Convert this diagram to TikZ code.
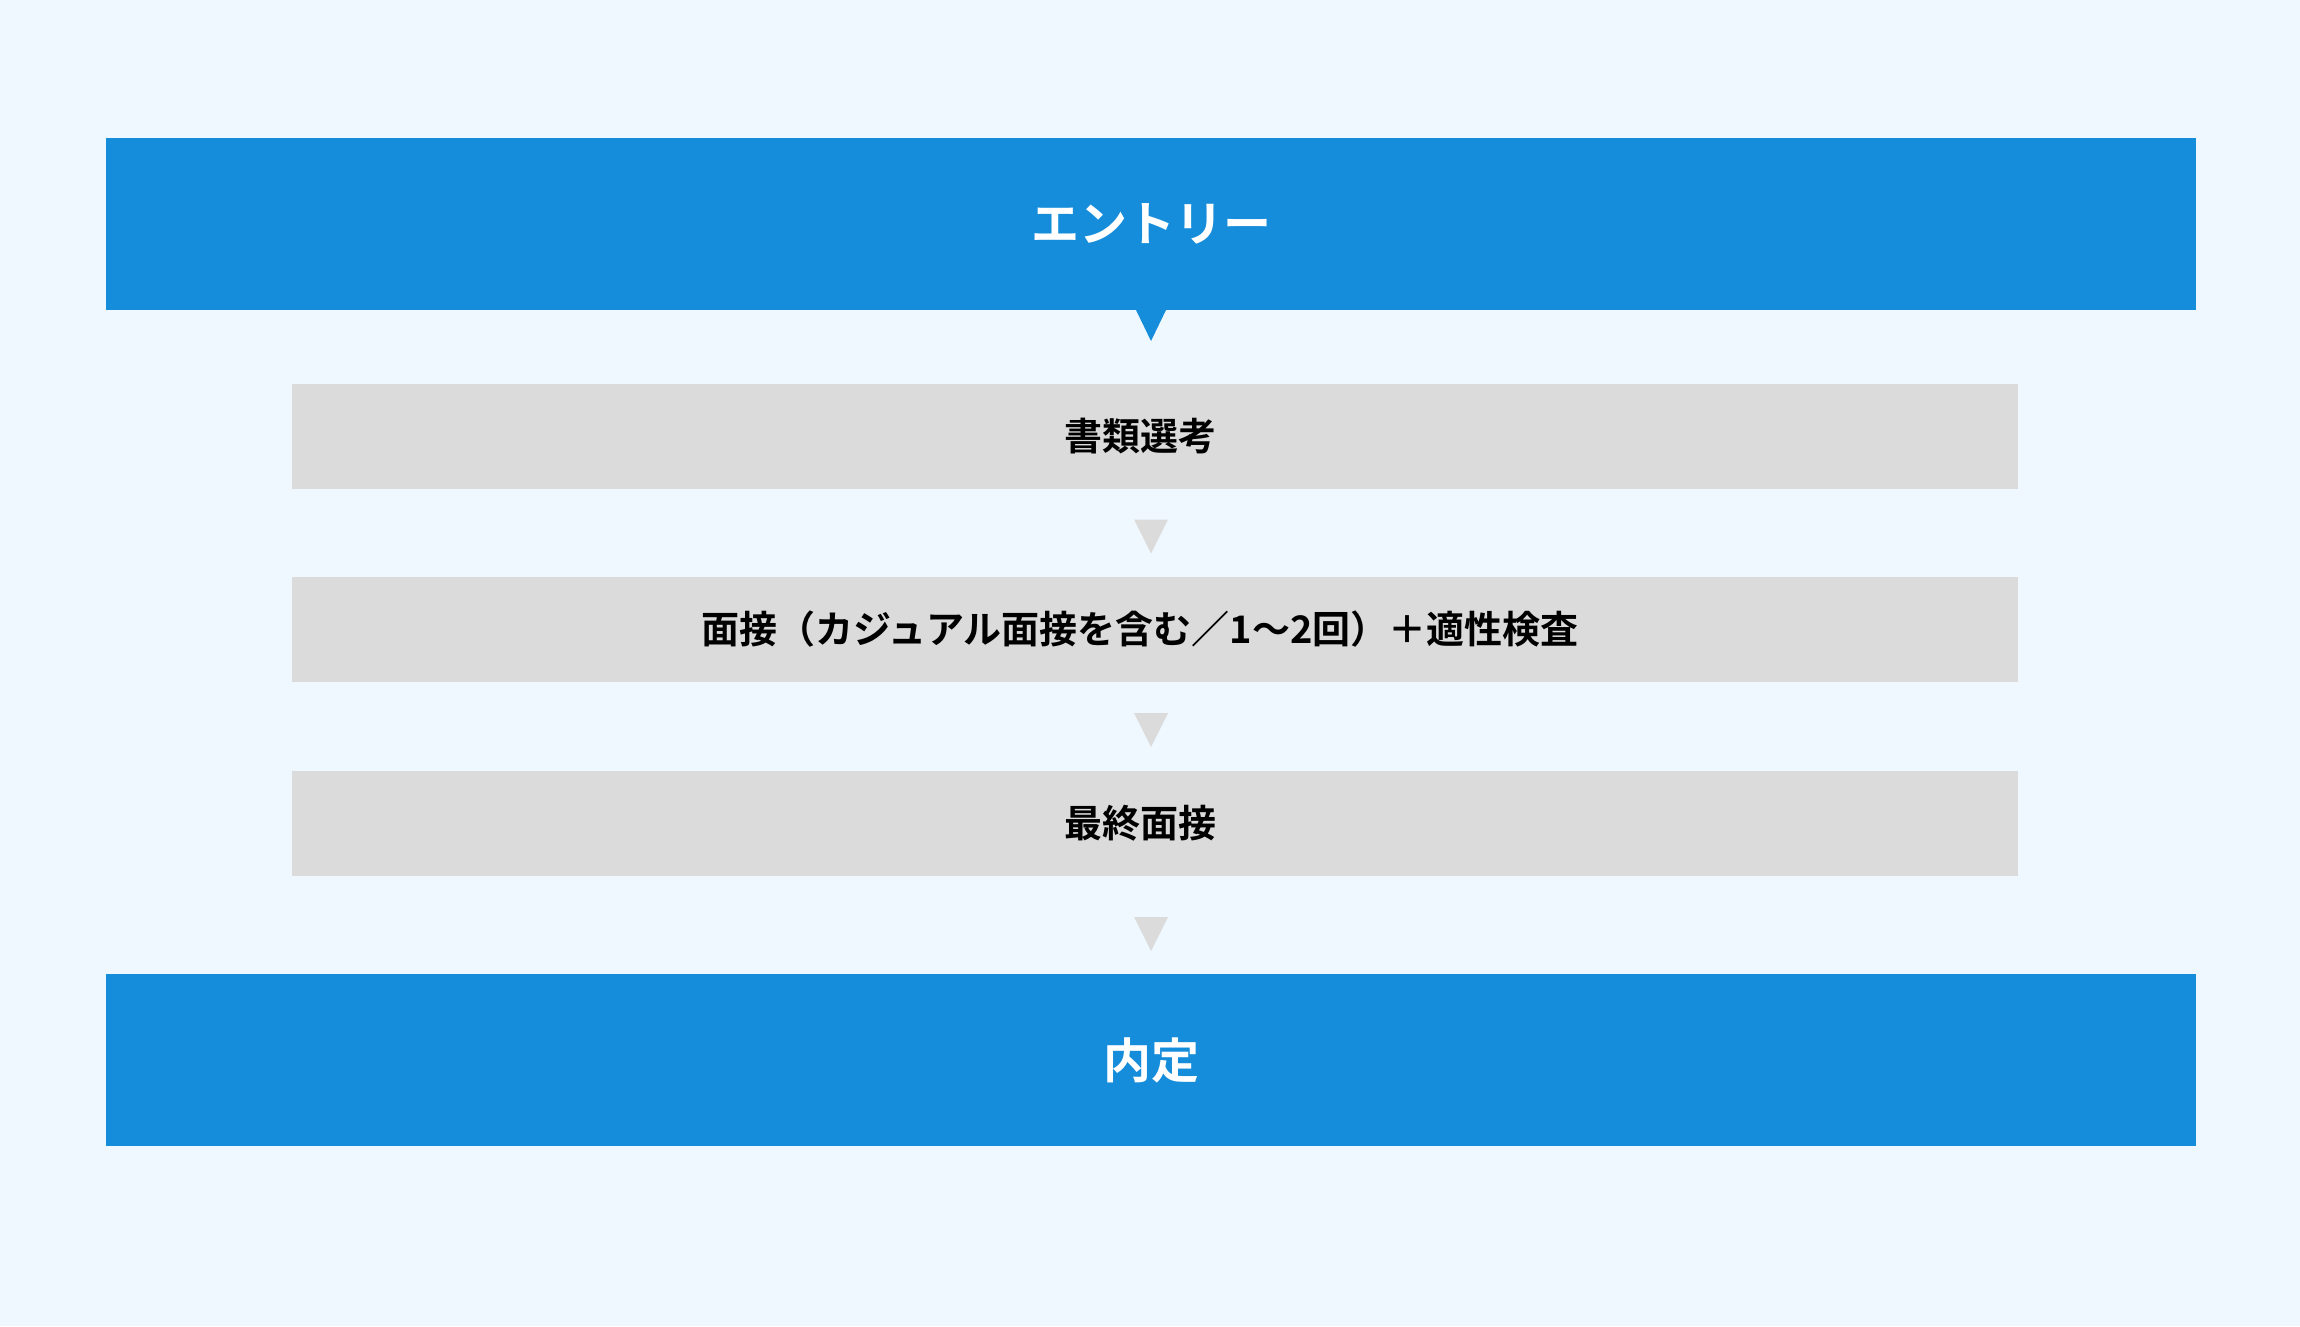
\documentclass[tikz,border=0pt]{standalone}
\usepackage{fontspec}
\newfontfamily\jpfont{Noto Sans CJK JP Bold}
\usepackage{tikz}
\usetikzlibrary{calc,positioning}
\definecolor{bgblue}{HTML}{EFF8FE}
\definecolor{stepblue}{HTML}{158DDB}
\definecolor{stepgray}{HTML}{DBDBDB}
\begin{document}
\begin{tikzpicture}[x=1pt,y=-1pt]
\tikzstyle{every node} = [inner sep = 0pt, outer sep = 0pt];
\tikzstyle{bluebox} = [fill = stepblue, text = white, minimum width = 2090pt, minimum height = 172pt, font = \jpfont\fontsize{48}{56}\selectfont];
\tikzstyle{graybox} = [fill = stepgray, text = black, minimum width = 1726pt, minimum height = 105pt, font = \jpfont\fontsize{38}{44}\selectfont];
\fill[bgblue] (0,0) rectangle (2300,1326);
\useasboundingbox (0,0) rectangle (2300,1326);
\node[bluebox] (entry) at (1151,224) {エントリー};
\node[graybox] (doc) at (1155,436) {\hspace*{-30pt}書類選考};
\node[graybox] (intv) at (1155,629.5) {\hspace*{-30pt}面接（カジュアル面接を含む／1〜2回）＋適性検査};
\node[graybox] (final) at (1155,823.5) {\hspace*{-30pt}最終面接};
\node[bluebox] (offer) at (1151,1060) {内定};
\fill[stepblue] ($(entry.south)+(-15,0)$) -- ++(30,0) -- ++(-15,31) -- cycle;
\foreach \a/\d in {doc/31,intv/31,final/41}
  \fill[stepgray] ($(entry.south |- \a.south)+(-17,\d)$) -- ++(34,0) -- ++(-17,34) -- cycle;
\end{tikzpicture}
\end{document}
